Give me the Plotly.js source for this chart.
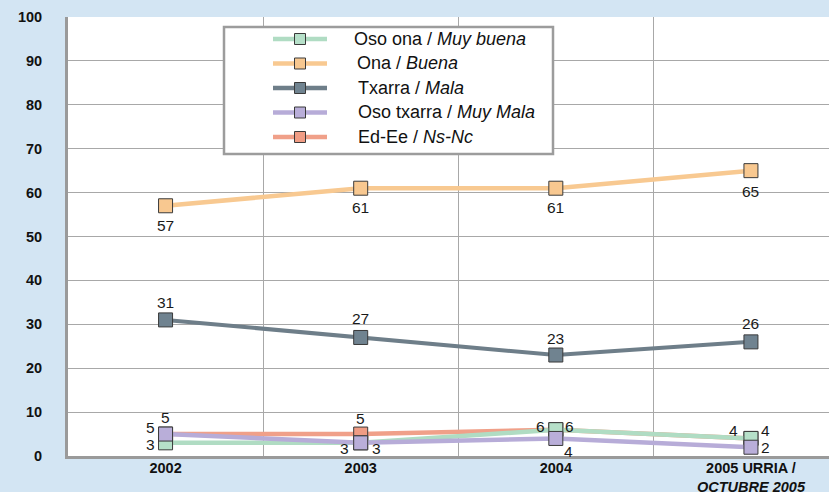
<!DOCTYPE html>
<html>
<head>
<meta charset="utf-8">
<script src="https://cdn.plot.ly/plotly-3.0.1.min.js"></script>
<style>
html,body{margin:0;padding:0;background:#d3e5f3;}
#chart{width:829px;height:492px;}
</style>
</head>
<body>
<div id="chart"></div>
<script>
var categories = ['2002', '2003', '2004', '2005 URRIA /<br><i>OCTUBRE 2005</i>'];
var osoOna = [3, 3, 6, 4];
var ona = [57, 61, 61, 65];
var txarra = [31, 27, 23, 26];
var osoTxarra = [5, 3, 4, 2];
var edEe = [5, 5, 6, 4];
var yTicks = [0, 10, 20, 30, 40, 50, 60, 70, 80, 90, 100];

var FONT = 'Liberation Sans, Arial, sans-serif';

// label offsets (pixels) per point: [xshift, yshift]
var series = [
  {name: 'Ed-Ee / <i>Ns-Nc</i>', y: edEe, line: '#f0a089', fill: '#f09c84', rank: 5, lw: 4.5,
   off: [[0, 17], [0, 16], [-15, 3], [-17, 8]]},
  {name: 'Oso ona / <i>Muy buena</i>', y: osoOna, line: '#b0dcc3', fill: '#b6e0c9', rank: 1, lw: 4.5,
   off: [[-15, -2], [-16, -6], [14, 3], [15, 8]]},
  {name: 'Oso txarra / <i>Muy Mala</i>', y: osoTxarra, line: '#b7acd8', fill: '#b9aed9', rank: 4, lw: 4.5,
   off: [[-15, 7], [16, -6], [13, -13], [15, 0]]},
  {name: 'Ona / <i>Buena</i>', y: ona, line: '#f8c991', fill: '#f8c890', rank: 2, lw: 4.5,
   off: [[0, -20], [0, -19], [0, -19], [0, -21]]},
  {name: 'Txarra / <i>Mala</i>', y: txarra, line: '#6e7e89', fill: '#708390', rank: 3, lw: 4,
   off: [[0, 17], [0, 19], [0, 17], [0, 18]]}
];

var traces = series.map(function (s) {
  return {
    type: 'scatter', mode: 'lines+markers',
    x: categories, y: s.y, name: s.name,
    line: {color: s.line, width: s.lw},
    marker: {symbol: 'square', size: 14, color: s.fill, line: {color: '#3a3a3a', width: 1}},
    showlegend: false, cliponaxis: false, hoverinfo: 'skip'
  };
});

var annotations = [];
series.forEach(function (s) {
  s.y.forEach(function (v, i) {
    annotations.push({
      x: i, y: v, xref: 'x', yref: 'y', text: String(v), showarrow: false,
      xshift: s.off[i][0], yshift: s.off[i][1],
      font: {family: FONT, size: 15.5, color: '#1a1a1a'}
    });
  });
});

var L = 68, R = 829, T = 17, B = 456;
var pw = R - L, ph = B - T;
function px(x) { return (x - L) / pw; }
function py(y) { return (B - y) / ph; }

var shapes = [{
  type: 'rect', xref: 'paper', yref: 'paper',
  x0: px(224), x1: px(553), y0: py(154), y1: py(27),
  fillcolor: '#ffffff', line: {color: '#9c9c9c', width: 2.5}, layer: 'above'
}];

// legend (key line + square + label), in legend order
var legendOrder = series.slice().sort(function (a, b) { return a.rank - b.rank; });
var textX = [352, 355, 356, 356, 356];
legendOrder.forEach(function (s, k) {
  var yc = 39 + k * 24.5;
  shapes.push({
    type: 'line', xref: 'paper', yref: 'paper',
    x0: px(273), x1: px(327), y0: py(yc), y1: py(yc),
    line: {color: s.line, width: 4.5}, layer: 'above'
  });
  shapes.push({
    type: 'rect', xref: 'paper', yref: 'paper',
    x0: px(294.5), x1: px(305.5), y0: py(yc + 5.5), y1: py(yc - 5.5),
    fillcolor: s.fill, line: {color: '#3a3a3a', width: 1}, layer: 'above'
  });
  annotations.push({
    xref: 'paper', yref: 'paper', x: px(textX[k]), y: py(yc),
    xanchor: 'left', yanchor: 'middle', text: s.name, showarrow: false,
    font: {family: FONT, size: 18, color: '#111'}
  });
});

var layout = {
  width: 829, height: 492,
  margin: {l: L, r: 0, t: T, b: 492 - B, pad: 0},
  paper_bgcolor: '#d3e5f3',
  plot_bgcolor: '#ffffff',
  font: {family: FONT, size: 15, color: '#111'},
  showlegend: false,
  xaxis: {
    type: 'category', range: [-0.5, 3.4],
    tickson: 'boundaries', showgrid: true, gridcolor: '#a8a8a8', gridwidth: 1,
    showline: true, linecolor: '#9a9a9a', linewidth: 3,
    ticks: '', tickfont: {family: FONT, size: 14.5, weight: 'bold', color: '#111'},
    ticklabelstandoff: -3, fixedrange: true
  },
  yaxis: {
    range: [0, 100], tickvals: yTicks, ticktext: yTicks.map(String),
    showgrid: true, gridcolor: '#a8a8a8', gridwidth: 1, zeroline: false,
    showline: true, linecolor: '#9a9a9a', linewidth: 3,
    ticks: '', tickfont: {family: FONT, size: 14.5, weight: 'bold', color: '#111'},
    ticklabelstandoff: 20, fixedrange: true
  },
  shapes: shapes,
  annotations: annotations
};

Plotly.newPlot('chart', traces, layout, {displayModeBar: false, staticPlot: true});
</script>
</body>
</html>
